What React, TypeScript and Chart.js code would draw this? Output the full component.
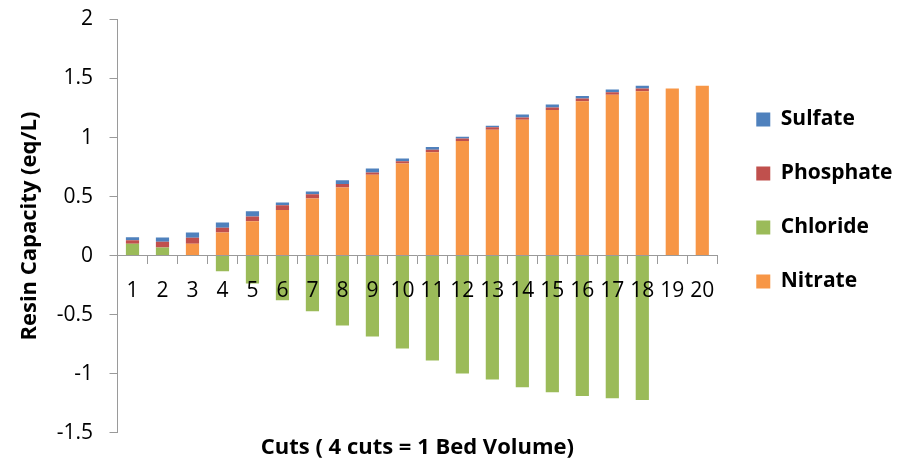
import React, { useEffect, useRef } from "react";
import { Chart, registerables } from "chart.js";

Chart.register(...registerables);

const categories = ["1", "2", "3", "4", "5", "6", "7", "8", "9", "10", "11", "12", "13", "14", "15", "16", "17", "18", "19", "20"];
const nitrate = [0, 0, 0.1, 0.195, 0.29, 0.387, 0.483, 0.576, 0.684, 0.78, 0.876, 0.97, 1.065, 1.15, 1.234, 1.308, 1.362, 1.393, 1.415, 1.438];
const chloride = [0.1, 0.068, 0, -0.133, -0.237, -0.379, -0.472, -0.593, -0.686, -0.788, -0.89, -1.0, -1.051, -1.116, -1.158, -1.189, -1.209, -1.223, 0, 0];
const phosphate = [0.03, 0.05, 0.05, 0.04, 0.04, 0.04, 0.037, 0.031, 0.02, 0.02, 0.02, 0.022, 0.023, 0.02, 0.02, 0.022, 0.022, 0.022, 0, 0];
const sulfate = [0.025, 0.034, 0.045, 0.045, 0.045, 0.022, 0.022, 0.031, 0.034, 0.023, 0.023, 0.014, 0.011, 0.025, 0.025, 0.022, 0.023, 0.023, 0, 0];

const yTicks = [-1.5, -1, -0.5, 0, 0.5, 1, 1.5, 2];

const AXIS = "#9a9a9a";
const FONT = "'Open Sans', sans-serif";

const legendShift = {
  id: "legendShift",
  afterLayout(chart: any) {
    const lg = chart.legend;
    if (lg) {
      lg.left += 6;
      lg.right += 6;
    }
  },
};

export default function App() {
  const ref = useRef<HTMLCanvasElement | null>(null);
  useEffect(() => {
    if (!ref.current) return;
    Chart.defaults.font.family = FONT;
    Chart.defaults.color = "#000";
    const chart = new Chart(ref.current, {
      type: "bar",
      data: {
        labels: categories,
        datasets: [
          { label: "Nitrate", data: nitrate, backgroundColor: "#F79646" },
          { label: "Chloride", data: chloride, backgroundColor: "#9BBB59" },
          { label: "Phosphate", data: phosphate, backgroundColor: "#C0504D" },
          { label: "Sulfate", data: sulfate, backgroundColor: "#4F81BD" },
        ],
      },
      plugins: [legendShift],
      options: {
        responsive: false,
        devicePixelRatio: 1,
        animation: false,
        datasets: { bar: { barPercentage: 0.44, categoryPercentage: 1, borderWidth: 0 } },
        layout: { padding: { left: 0, top: 19.5, right: 17.5, bottom: 0 } },
        plugins: {
          tooltip: { enabled: false },
          title: {
            display: true,
            position: "bottom",
            fullSize: false,
            text: "Cuts ( 4 cuts = 1 Bed Volume)",
            color: "#000",
            font: { family: FONT, size: 22, weight: "bold" },
            padding: { top: 2, bottom: 5 },
          },
          legend: {
            position: "right",
            align: "start",
            reverse: true,
            title: { display: true, text: "", font: { size: 10 }, padding: { top: 44.5, bottom: 0 } },
            labels: {
              boxWidth: 14,
              boxHeight: 14,
              padding: 33,
              color: "#000",
              font: { family: FONT, size: 21, weight: "bold" },
            },
          },
        },
        scales: {
          x: {
            type: "category",
            stacked: true,
            offset: true,
            position: { y: 0 },
            grid: { display: true, drawOnChartArea: false, drawTicks: true, tickLength: 8, offset: true, color: AXIS, lineWidth: 1, z: 1 },
            border: { display: true, color: AXIS, width: 1, z: 1 },
            ticks: { autoSkip: false, maxRotation: 0, minRotation: 0, padding: 15, color: "#000", font: { family: FONT, size: 21 }, z: 1 },
            afterFit: (s: any) => { s.height = 0; },
          },
          y: {
            type: "linear",
            stacked: true,
            position: "left",
            min: -1.5,
            max: 2,
            afterBuildTicks: (s: any) => { s.ticks = yTicks.map((v) => ({ value: v })); },
            grid: { display: true, drawOnChartArea: false, drawTicks: true, tickLength: 8, color: AXIS, lineWidth: 1 },
            border: { display: true, color: AXIS, width: 1 },
            ticks: { padding: 16.5, color: "#000", font: { family: FONT, size: 21 }, callback: (v: any) => String(v) },
            title: {
              display: true,
              text: "Resin Capacity (eq/L)",
              color: "#000",
              font: { family: FONT, size: 22, weight: "bold" },
              padding: { top: 16.3, bottom: 0 },
            },
            afterFit: (s: any) => {
              s.width = 117.5;
              s.paddingTop = 12;
              s.paddingBottom = 12;
            },
          },
        },
      },
    });
    return () => chart.destroy();
  }, []);
  return (
    <div style={{ position: "fixed", left: 0, top: 0, width: 914, height: 466, background: "#fff" }}>
      <canvas ref={ref} width={914} height={466} style={{ display: "block" }} />
    </div>
  );
}
